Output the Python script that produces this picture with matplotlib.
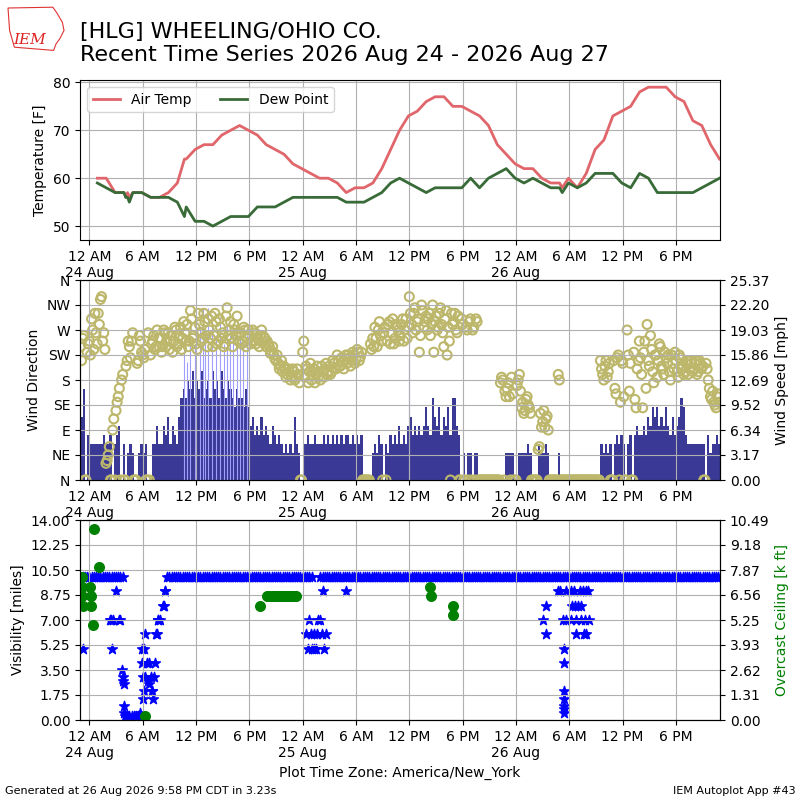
import numpy as np
import pandas as pd
import matplotlib
matplotlib.use('Agg')
import matplotlib.pyplot as plt
import matplotlib.dates as mdates
from matplotlib.ticker import FuncFormatter, FormatStrFormatter
from matplotlib.patches import Polygon

KT2MPH = 1.15078

# --- hourly METAR obs, first at 24 Aug 00:54 EDT ---
obs_start = '2026-08-24 00:54'
air_temp = [60, 60, 57, 57, 57, 57, 56, 56, 57, 59,
            64, 66, 67, 67, 69, 70, 71, 70, 69, 67,
            66, 65, 63, 62, 61, 60, 60, 59, 57, 58,
            58, 59, 62, 66, 70, 73, 74, 76, 77, 77,
            75, 75, 74, 73, 71, 67, 65, 63, 62, 62,
            60, 59, 59, 60, 58, 61, 66, 68, 73, 74,
            75, 78, 79, 79, 79, 77, 76, 72, 71, 67,
            64]
dew_point = [59, 58, 57, 57, 57, 57, 56, 56, 56, 55,
             54, 51, 51, 50, 51, 52, 52, 52, 54, 54,
             54, 55, 56, 56, 56, 56, 56, 56, 55, 55,
             55, 56, 57, 59, 60, 59, 58, 57, 58, 58,
             58, 58, 60, 58, 60, 61, 62, 60, 59, 60,
             59, 58, 58, 59, 58, 59, 61, 61, 61, 59,
             58, 61, 60, 57, 57, 57, 57, 57, 58, 59,
             60]
# special obs (hours after 24 Aug 00:00)
special_hours = [4.1, 4.3, 4.5, 10.7, 53.2]
special_temp = [56, 57, 56, 64, 58]
special_dew = [56, 56, 55, 52, 57]

# --- wind, 15 minute samples from 23 Aug 23:00 ---
wind_start = '2026-08-23 23:00'
wind_dir = [
    240, 255, 0, 230, 250, 290, 235, 265, 300, 325, 250, 235,
    35, 60, 0, 110, 125, 150, 0, 190, 0, 215, 240, 250,
    0, 0, 215, 250, 225, 235, 0, 0, 245, 260, 240, 255,
    255, 240, 265, 250, 235, 260, 250, 270, 245, 275, 255, 265,
    280, 250, 290, 260, 245, 300, 265, 255, 285, 240, 270, 295,
    260, 285, 250, 275, 265, 245, 310, 270, 255, 280, 260, 250,
    265, 250, 270, 255, 260, 250, 265, 245, 255, 260, 248, 255,
    250, 240, 232, 225, 215, 210, 205, 195, 200, 190, 195, 185,
    195, 185, 190, 0, 230, 185, 200, 195, 180, 200, 190, 185,
    180, 195, 200, 190, 205, 195, 210, 200, 215, 205, 212, 218,
    210, 220, 215, 225, 218, 230, 222, 0, 0, 0, 0, 235,
    240, 255, 270, 260, 0, 275, 250, 285, 265, 245, 280, 270,
    260, 290, 270, 255, 330, 280, 300, 270, 290, 260, 305, 285,
    270, 300, 280, 230, 295, 275, 310, 265, 290, 225, 250, 300,
    285, 270, 295, 0, 280, 0, 270, 285, 0, 275, 290, 0,
    0, 0, 0, 0, 0, 0, 0, 0, 0, 175, 180, 160,
    165, 150, 185, 0, 0, 180, 160, 140, 125, 150, 130, 0,
    0, 0, 55, 120, 105, 95, 115, 0, 0, 0, 0, 190,
    0, 0, 0, 0, 0, 0, 0, 0, 0, 0, 0, 0,
    0, 0, 0, 0, 0, 0, 215, 190, 205, 185, 210, 0,
    215, 155, 225, 140, 210, 0, 270, 160, 0, 230, 130, 215,
    220, 130, 250, 280, 205, 235, 175, 225, 215, 240, 200, 230,
    210, 195, 225, 200, 215, 185, 220, 205, 195, 215, 200, 210,
    200, 215, 195, 210, 205, 0, 200, 165, 145, 140, 130, 155,
]
# second direction sample in each 15 minute slot (7.5 min later)
wind_start_b = '2026-08-23 23:07:30'
wind_dir_b = [
    215, 260, 0, 245, 225, 270, 300, 245, 280, 330, 265, 30,
    45, 0, 90, 0, 140, 165, 180, 0, 205, 250, 220, 265,
    0, 210, 260, 230, 220, 0, 265, 225, 250, 235, 270, 240,
    230, 270, 240, 265, 250, 230, 275, 240, 260, 235, 285, 250,
    240, 305, 255, 275, 235, 280, 250, 300, 260, 290, 255, 240,
    300, 245, 290, 255, 240, 295, 260, 285, 240, 270, 295, 265,
    245, 275, 240, 270, 245, 270, 250, 262, 240, 270, 258, 240,
    245, 228, 240, 218, 225, 200, 215, 205, 185, 200, 180, 200,
    180, 200, 175, 0, 250, 205, 175, 210, 195, 175, 205, 195,
    205, 185, 210, 195, 190, 215, 200, 225, 205, 220, 200, 225,
    225, 205, 230, 210, 235, 215, 230, 0, 0, 0, 245, 255,
    275, 240, 285, 250, 265, 0, 280, 245, 290, 255, 275, 250,
    280, 250, 290, 275, 300, 265, 310, 285, 230, 315, 275, 295,
    290, 260, 315, 285, 270, 300, 280, 240, 305, 275, 0, 280,
    300, 265, 0, 290, 0, 275, 0, 290, 270, 0, 285, 0,
    0, 0, 0, 0, 0, 0, 0, 0, 0, 185, 0, 150,
    175, 0, 155, 0, 170, 190, 130, 120, 145, 135, 120, 0,
    0, 0, 60, 95, 125, 110, 90, 0, 0, 0, 0, 180,
    0, 0, 0, 0, 0, 0, 0, 0, 0, 0, 0, 0,
    0, 0, 0, 0, 0, 0, 200, 180, 215, 195, 0, 0,
    165, 220, 0, 215, 150, 0, 225, 210, 0, 145, 200, 250,
    190, 230, 165, 215, 260, 195, 225, 185, 245, 205, 190, 220,
    225, 180, 210, 230, 195, 225, 200, 190, 210, 190, 215, 195,
    210, 190, 215, 200, 0, 210, 180, 150, 160, 135, 150, 140,
]
wind_kt = [
    7, 10, 0, 5, 4, 4, 4, 4, 4, 4, 5, 4,
    4, 5, 0, 4, 5, 6, 0, 4, 0, 3, 4, 3,
    0, 0, 3, 4, 3, 4, 0, 0, 4, 4, 6, 4,
    4, 6, 5, 7, 4, 6, 5, 4, 7, 9, 10, 9,
    11, 10, 12, 9, 11, 10, 12, 9, 10, 11, 9, 12,
    10, 11, 9, 12, 10, 9, 11, 10, 9, 8, 10, 9,
    9, 8, 10, 8, 6, 7, 5, 6, 5, 7, 5, 6,
    5, 4, 6, 5, 4, 5, 4, 3, 4, 3, 4, 3,
    7, 4, 3, 0, 4, 4, 5, 4, 4, 5, 4, 4,
    4, 5, 4, 5, 4, 5, 4, 5, 4, 5, 4, 5,
    5, 4, 5, 4, 5, 4, 5, 0, 0, 0, 0, 3,
    4, 3, 5, 4, 0, 4, 3, 5, 4, 5, 4, 6,
    4, 5, 4, 6, 7, 5, 6, 5, 6, 5, 6, 8,
    6, 5, 9, 7, 6, 8, 5, 7, 6, 8, 5, 9,
    9, 6, 5, 0, 3, 0, 3, 3, 0, 3, 3, 0,
    0, 0, 0, 0, 0, 0, 0, 0, 0, 0, 0, 3,
    3, 3, 3, 0, 0, 3, 3, 3, 3, 4, 3, 0,
    0, 0, 4, 3, 3, 4, 3, 0, 0, 0, 0, 3,
    0, 0, 0, 0, 0, 0, 0, 0, 0, 0, 0, 0,
    0, 0, 0, 0, 0, 0, 4, 3, 4, 3, 4, 0,
    4, 5, 4, 5, 4, 0, 4, 5, 0, 5, 6, 5,
    5, 6, 5, 7, 6, 8, 7, 8, 6, 7, 6, 8,
    6, 5, 7, 5, 6, 7, 9, 8, 5, 4, 4, 4,
    4, 4, 4, 4, 4, 0, 5, 3, 4, 4, 5, 4,
]
gust_hours = [10.6, 10.95, 11.3, 11.9, 12.45, 12.75, 13.0, 13.4, 13.8, 14.3,
              14.7, 15.1, 15.45, 15.8, 16.2, 16.6, 16.95, 17.3, 17.7, 36.0]
gust_kt = [15, 13, 15, 15, 17, 19, 16, 19, 18, 16,
           18, 15, 17, 16, 16, 17, 16, 15, 16, 21]

# --- visibility [miles], 15 minute samples from 23 Aug 23:00 ---
visibility = [
    10, 10, 10, 10, 10, 10, 10, 10, 10, 10, 10, 10,
    10, 10, 10, 10, 10, 10, 10, 10, 0.25, 0.25, 0.25, 0.25,
    0.25, 0.25, 0.25, 0.5, 1.5, 3, 4, 2.5, 2, 3, 6, 7,
    7, 8, 9, 10, 10, 10, 10, 10, 10, 10, 10, 10,
    10, 10, 10, 10, 10, 10, 10, 10, 10, 10, 10, 10,
    10, 10, 10, 10, 10, 10, 10, 10, 10, 10, 10, 10,
    10, 10, 10, 10, 10, 10, 10, 10, 10, 10, 10, 10,
    10, 10, 10, 10, 10, 10, 10, 10, 10, 10, 10, 10,
    10, 10, 10, 10, 10, 10, 10, 10, 10, 6, 5, 7,
    10, 10, 10, 10, 10, 10, 10, 10, 10, 10, 10, 10,
    10, 10, 10, 10, 10, 10, 10, 10, 10, 10, 10, 10,
    10, 10, 10, 10, 10, 10, 10, 10, 10, 10, 10, 10,
    10, 10, 10, 10, 10, 10, 10, 10, 10, 10, 10, 10,
    10, 10, 10, 10, 10, 10, 10, 10, 10, 10, 10, 10,
    10, 10, 10, 10, 10, 10, 10, 10, 10, 10, 10, 10,
    10, 10, 10, 10, 10, 10, 10, 10, 10, 10, 10, 10,
    10, 10, 10, 10, 10, 10, 10, 10, 10, 10, 10, 10,
    10, 10, 10, 10, 10, 10, 10, 10, 10, 10, 10, 10,
    10, 10, 10, 10, 10, 10, 10, 10, 10, 10, 10, 10,
    10, 10, 10, 10, 10, 10, 10, 10, 10, 10, 10, 10,
    10, 10, 10, 10, 10, 10, 10, 10, 10, 10, 10, 10,
    10, 10, 10, 10, 10, 10, 10, 10, 10, 10, 10, 10,
    10, 10, 10, 10, 10, 10, 10, 10, 10, 10, 10, 10,
    10, 10, 10, 10, 10, 10, 10, 10, 10, 10, 10, 10,
]
# extra (1 minute) visibility reports, hours after 24 Aug 00:00
vis_extra_hours = [-0.7, 2.3, 2.45, 2.6, 2.7, 3.0, 3.3, 3.5, 3.7, 3.75, 3.8, 3.85, 3.9, 3.95,
                   5.9, 5.95, 6.0, 6.1, 6.2, 6.3, 6.6, 6.7, 6.9, 7.1, 7.2, 7.4, 7.6, 7.7, 8.35, 8.55,
                   24.4, 24.6, 24.75, 24.9, 25.1, 25.3, 25.6, 25.95, 26.2, 26.25, 26.4, 26.6, 28.9,
                   51.0, 51.4, 51.4, 52.7, 53.0, 53.3, 53.35, 53.4, 53.4, 53.45, 53.4, 53.35, 53.4, 53.6, 53.6,
                   54.2, 54.3, 54.2, 54.5, 54.6, 54.75, 54.8, 55.0, 55.2, 55.3, 55.3, 55.5, 55.6, 55.8,
                   55.9, 55.9, 56.1, 56.2]
vis_extra_miles = [5, 7, 7, 5, 7, 9, 7, 7, 3.5, 3, 2.75, 2.5, 1, 0.5,
                   4, 5, 3, 2, 5, 6, 2.75, 4, 3, 2, 1.5, 4, 6, 7, 8, 9,
                   6, 5, 7, 6, 5, 5, 6, 7, 6, 9, 5, 6, 9,
                   7, 8, 6, 9, 9, 7, 5, 4, 2, 1.5, 1, 0.75, 0.5, 9, 7,
                   9, 8, 7, 9, 8, 6, 7, 8, 9, 7, 8, 9, 6, 7,
                   9, 6, 9, 7]

# --- overcast ceiling [k ft] ---
ceil_hours = [-0.85, -0.85, -0.8, -0.75, 0.1, 0.15, 0.15, 0.4, 0.5, 1.1, 6.3, 19.2,
              20.0, 20.25, 20.5, 20.75, 21.0, 21.25, 21.5, 21.75, 22.0, 22.25, 22.5, 22.75,
              23.0, 23.25, 38.35, 38.45, 40.9, 40.95]
ceil_kft = [7.5, 7.0, 6.5, 6.0, 7.0, 6.5, 6.0, 5.0, 10.0, 8.0, 0.2, 6.0,
            6.5, 6.5, 6.5, 6.5, 6.5, 6.5, 6.5, 6.5, 6.5, 6.5, 6.5, 6.5,
            6.5, 6.5, 7.0, 6.5, 6.0, 5.5]

day0 = pd.Timestamp('2026-08-24 00:00')


def hours2num(hours):
    return mdates.date2num((day0 + pd.to_timedelta(hours, unit='h')).to_numpy())


def time_fmt(x, pos=None):
    hour = int(round((x % 1) * 24)) % 24
    lbl = {0: '12 AM', 6: '6 AM', 12: '12 PM', 18: '6 PM'}.get(hour, '')
    if hour == 0:
        lbl += '\n' + mdates.num2date(x + 0.01).strftime('%d %b')
    return lbl


# observations merged with specials
obs = pd.DataFrame({'valid': pd.date_range(obs_start, periods=len(air_temp), freq='h'),
                    'tmpf': air_temp, 'dwpf': dew_point})
spec = pd.DataFrame({'valid': day0 + pd.to_timedelta(special_hours, unit='h'),
                     'tmpf': special_temp, 'dwpf': special_dew})
obs = pd.concat([obs, spec]).sort_values('valid')
t_obs = mdates.date2num(obs['valid'].to_numpy())

t_wind = mdates.date2num(pd.date_range(wind_start, periods=len(wind_dir), freq='15min').to_numpy())
t_wind_b = mdates.date2num(pd.date_range(wind_start_b, periods=len(wind_dir_b), freq='15min').to_numpy())
spd_mph = np.array(wind_kt) * KT2MPH
gust_mph = np.array(gust_kt) * KT2MPH

xmin = mdates.date2num(np.datetime64('2026-08-23T22:57'))
xmax = mdates.date2num(np.datetime64('2026-08-26T22:57'))

fig = plt.figure(figsize=(8, 8), dpi=100)
ax1 = fig.add_axes([0.1, 0.7, 0.8, 0.2])
ax2 = fig.add_axes([0.1, 0.4, 0.8, 0.25])
ax3 = fig.add_axes([0.1, 0.1, 0.8, 0.25])

# panel 1: temperatures
ax1.plot(t_obs, obs['tmpf'], color='#e0666b', lw=2, label='Air Temp')
ax1.plot(t_obs, obs['dwpf'], color='#386b38', lw=2, label='Dew Point')
ax1.set_ylim(47.1, 80.5)
ax1.set_yticks([50, 60, 70, 80])
ax1.set_ylabel('Temperature [F]')
ax1.legend(loc='upper left', ncol=2)
ax1.grid(True)

# panel 2: wind
ax2b = ax2.twinx()
ax2.set_zorder(ax2b.get_zorder() + 1)
ax2.patch.set_visible(False)
ax2b.vlines(hours2num(gust_hours), 0, gust_mph, color='#9f9fff', lw=0.8)
ax2b.bar(t_wind, spd_mph, width=15 / 1440., align='edge', color='#3a3a96', lw=0)
for tt, dd in ((t_wind, wind_dir), (t_wind_b, wind_dir_b)):
    ax2.scatter(tt, dd, s=42, facecolors='none', edgecolors='#bdb76b', linewidths=1.5)
ax2.set_ylim(0, 360)
ax2.set_yticks(range(0, 361, 45))
ax2.set_yticklabels(['N', 'NE', 'E', 'SE', 'S', 'SW', 'W', 'NW', 'N'])
ax2.set_ylabel('Wind Direction')
ymax = gust_mph.max() * 1.05
ax2b.set_ylim(0, ymax)
ax2b.set_yticks(np.linspace(0, ymax, 9))
ax2b.yaxis.set_major_formatter(FormatStrFormatter('%.2f'))
ax2b.set_ylabel('Wind Speed [mph]')
ax2.grid(True)

# panel 3: visibility and ceiling
ax3.scatter(t_wind, visibility, marker='*', s=55, color='b')
ax3.scatter(hours2num(vis_extra_hours), vis_extra_miles, marker='*', s=55, color='b')
ax3.set_ylim(0, 14)
ax3.set_yticks(np.linspace(0, 14, 9))
ax3.yaxis.set_major_formatter(FormatStrFormatter('%.2f'))
ax3.set_ylabel('Visibility [miles]')
ax3.grid(True)
ax3b = ax3.twinx()
ax3b.scatter(hours2num(ceil_hours), ceil_kft, marker='o', s=48, color='g')
ax3b.set_ylim(0, 10.49)
ax3b.set_yticks(np.linspace(0, 10.49, 9))
ax3b.yaxis.set_major_formatter(FormatStrFormatter('%.2f'))
ax3b.set_ylabel('Overcast Ceiling [k ft]', color='g')
ax3.set_xlabel('Plot Time Zone: America/New_York')

for ax in (ax1, ax2, ax3):
    ax.set_xlim(xmin, xmax)
    ax.xaxis.set_major_locator(mdates.HourLocator(byhour=[0, 6, 12, 18]))
    ax.xaxis.set_major_formatter(FuncFormatter(time_fmt))

# header / logo / footer
fig.text(0.1, 0.973, '[HLG] WHEELING/OHIO CO.\nRecent Time Series 2026 Aug 24 - 2026 Aug 27',
         fontsize=16, va='top', ha='left', linespacing=1.2)
logo = Polygon([(0.010, 0.990), (0.066, 0.991), (0.071, 0.984), (0.078, 0.972), (0.080, 0.962),
                (0.075, 0.952), (0.070, 0.945), (0.067, 0.937), (0.018, 0.941), (0.012, 0.962)],
               closed=True, fill=False, edgecolor='#dd3333', lw=0.8, transform=fig.transFigure)
fig.patches.append(logo)
fig.text(0.017, 0.945, 'IEM', color='#dd2222', fontsize=11, family='serif', style='italic')
fig.text(0.006, 0.008, 'Generated at 26 Aug 2026 9:58 PM CDT in 3.23s', fontsize=8)
fig.text(0.994, 0.008, 'IEM Autoplot App #43', fontsize=8, ha='right')

fig.savefig('out.png', dpi=100)
